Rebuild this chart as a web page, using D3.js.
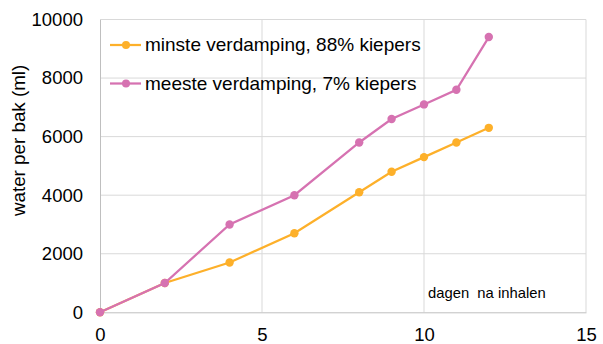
<!DOCTYPE html>
<html>
<head>
<meta charset="utf-8">
<script src="https://cdn.jsdelivr.net/npm/d3@7/dist/d3.min.js"></script>
<style>
  html, body { margin: 0; padding: 0; background: #fff; }
  svg { display: block; font-family: "Liberation Sans", Arial, sans-serif; }
</style>
</head>
<body>
<svg id="chart" width="603" height="344"></svg>
<script>
// Water use per tray over days after planting
const days = [0, 2, 4, 6, 8, 9, 10, 11, 12];
const minsteVerdamping = [0, 1000, 1700, 2700, 4100, 4800, 5300, 5800, 6300];
const meesteVerdamping = [0, 1000, 3000, 4000, 5800, 6600, 7100, 7600, 9400];
const seriesNames = ["minste verdamping, 88% kiepers", "meeste verdamping, 7% kiepers"];
const seriesColors = ["#FDB02A", "#D672B1"];
const xTicks = [0, 5, 10, 15];
const yTicks = [0, 2000, 4000, 6000, 8000, 10000];
const yLabel = "water per bak (ml)";
const xNote = "dagen  na inhalen";

const svg = d3.select("#chart");
const plotLeft = 100, plotRight = 586, plotTop = 19.5, plotBottom = 312.3;
const fontFamily = "Liberation Sans, Arial, sans-serif";

const x = d3.scaleLinear().domain([0, 15]).range([plotLeft, plotRight]);
const y = d3.scaleLinear().domain([0, 10000]).range([plotBottom, plotTop]);

// grid
svg.append("g").selectAll("line").data(yTicks.filter(d => d > 0)).join("line")
  .attr("x1", plotLeft).attr("x2", plotRight)
  .attr("y1", d => y(d)).attr("y2", d => y(d))
  .attr("stroke", "#d9d9d9").attr("stroke-width", 1);
svg.append("g").selectAll("line").data(xTicks.filter(d => d > 0)).join("line")
  .attr("x1", d => x(d)).attr("x2", d => x(d))
  .attr("y1", plotTop).attr("y2", plotBottom)
  .attr("stroke", "#d9d9d9").attr("stroke-width", 1);

// axes
const xAxis = svg.append("g").attr("transform", `translate(0,${plotBottom})`)
  .call(d3.axisBottom(x).tickValues(xTicks).tickFormat(d3.format("d")).tickSize(0).tickPadding(15.5));
const yAxis = svg.append("g").attr("transform", `translate(${plotLeft},0)`)
  .call(d3.axisLeft(y).tickValues(yTicks).tickFormat(d3.format("d")).tickSize(0).tickPadding(17));
[xAxis, yAxis].forEach(a => {
  a.attr("font-family", fontFamily);
  a.select(".domain").attr("stroke", "#bfbfbf");
  a.selectAll("text").attr("font-size", 18.5).attr("fill", "#000");
});

svg.append("text")
  .attr("transform", `translate(25,${(plotTop + plotBottom) / 2 - 25.5}) rotate(-90)`)
  .attr("text-anchor", "middle")
  .attr("font-size", 18.8)
  .text(yLabel);

svg.append("text")
  .attr("x", 428).attr("y", 297.5)
  .attr("font-size", 14.8)
  .attr("xml:space", "preserve")
  .style("white-space", "pre")
  .text(xNote);

// series
const series = [minsteVerdamping, meesteVerdamping];
const line = d3.line().x(d => x(d[0])).y(d => y(d[1]));
series.forEach((vals, i) => {
  const pts = days.map((d, j) => [d, vals[j]]);
  const g = svg.append("g");
  g.append("path").datum(pts).attr("d", line)
    .attr("fill", "none").attr("stroke", seriesColors[i]).attr("stroke-width", 2.25);
  g.selectAll("circle").data(pts).join("circle")
    .attr("cx", d => x(d[0])).attr("cy", d => y(d[1])).attr("r", 4.2)
    .attr("fill", seriesColors[i]);
});

// legend
const legend = svg.append("g");
seriesNames.forEach((name, i) => {
  const ly = 45 + i * 38.5;
  legend.append("line").attr("x1", 110).attr("x2", 141).attr("y1", ly).attr("y2", ly)
    .attr("stroke", seriesColors[i]).attr("stroke-width", 2.25);
  legend.append("circle").attr("cx", 126).attr("cy", ly).attr("r", 4).attr("fill", seriesColors[i]);
  legend.append("text").attr("x", 145).attr("y", ly + 6.3).attr("font-size", 19).text(name);
});
</script>
</body>
</html>
